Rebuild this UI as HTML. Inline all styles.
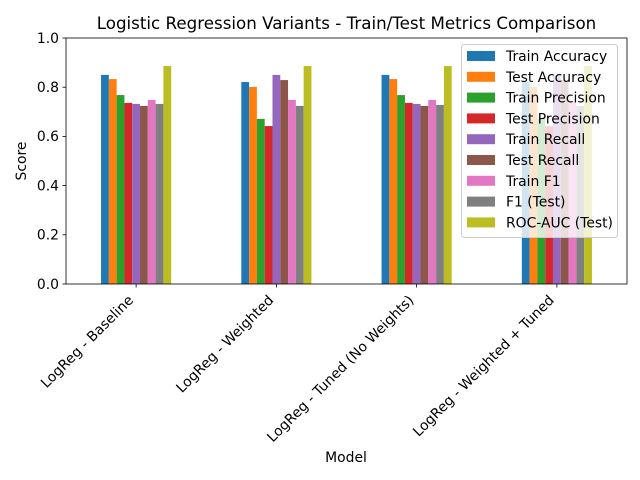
<!DOCTYPE html>
<html><head><meta charset="utf-8"><style>body{margin:0;background:#fff}svg{display:block;font-family:"DejaVu Sans","Liberation Sans",sans-serif}</style></head>
<body>
<svg id="chart" width="640" height="480" xmlns="http://www.w3.org/2000/svg"></svg>
<script>
const categories = ["LogReg - Baseline","LogReg - Weighted","LogReg - Tuned (No Weights)","LogReg - Weighted + Tuned"];
const seriesNames = ["Train Accuracy","Test Accuracy","Train Precision","Test Precision","Train Recall","Test Recall","Train F1","F1 (Test)","ROC-AUC (Test)"];
const trainAccuracy = [0.850,0.821,0.850,0.822];
const testAccuracy = [0.833,0.801,0.833,0.801];
const trainPrecision = [0.768,0.671,0.768,0.671];
const testPrecision = [0.736,0.642,0.736,0.642];
const trainRecall = [0.732,0.850,0.732,0.850];
const testRecall = [0.724,0.829,0.724,0.829];
const trainF1 = [0.748,0.748,0.748,0.746];
const testF1 = [0.732,0.724,0.728,0.724];
const rocAuc = [0.886,0.886,0.886,0.886];
const yTicks = [0.0,0.2,0.4,0.6,0.8,1.0];
const yTickLabels = ["0.0","0.2","0.4","0.6","0.8","1.0"];
const series = [trainAccuracy,testAccuracy,trainPrecision,testPrecision,trainRecall,testRecall,trainF1,testF1,rocAuc];
const colors = ["#1f77b4","#ff7f0e","#2ca02c","#d62728","#9467bd","#8c564b","#e377c2","#7f7f7f","#bcbd22"];

const NS="http://www.w3.org/2000/svg";
const svg=document.getElementById('chart');
const L=66,R=627,T=38,B=284;
const xScale=v=>L+(v+0.5)/4*(R-L);
const yScale=v=>B-v*(B-T);
function mk(tag,attrs,parent){const e=document.createElementNS(NS,tag);for(const k in attrs)e.setAttribute(k,attrs[k]);(parent||svg).appendChild(e);return e;}

const bw=0.5/series.length;
series.forEach((vals,s)=>{
  vals.forEach((v,i)=>{
    const x0=xScale(i-0.25+s*bw), x1=xScale(i-0.25+(s+1)*bw);
    const r=mk('rect',{x:x0,y:yScale(v),width:x1-x0,height:yScale(0)-yScale(v),fill:colors[s]});
    
    
  });
});
const frame=mk('rect',{x:L,y:T,width:R-L,height:B-T,fill:'none',stroke:'#000','stroke-width':0.8});



yTicks.forEach((v,i)=>{
  const y=yScale(v);
  mk('line',{x1:L-3.5,x2:L,y1:y,y2:y,stroke:'#000','stroke-width':0.8});
  const t=mk('text',{x:L-7,y:y+4.8,'text-anchor':'end','font-size':13.9});
  t.textContent=yTickLabels[i];
  
  
});
categories.forEach((c,i)=>{
  const x=xScale(i);
  mk('line',{x1:x,x2:x,y1:B,y2:B+3.5,stroke:'#000','stroke-width':0.8});
  const ax=x-2, ay=B+17;
  const t=mk('text',{x:ax,y:ay,'text-anchor':'end','font-size':13.9,transform:`rotate(-45 ${ax} ${ay})`});
  t.textContent=c;
  
  
});
let t=mk('text',{x:(L+R)/2,y:29,'text-anchor':'middle','font-size':16.7});
t.textContent="Logistic Regression Variants - Train/Test Metrics Comparison";


t=mk('text',{x:346,y:462,'text-anchor':'middle','font-size':13.9});
t.textContent="Model";


t=mk('text',{x:26,y:161,'text-anchor':'middle','font-size':13.9,transform:'rotate(-90 26 161)'});
t.textContent="Score";



const lg=mk('g',{});


mk('rect',{x:461.5,y:44.5,width:156,height:193,rx:3,fill:'#fff','fill-opacity':0.8,stroke:'#ccc'},lg);
seriesNames.forEach((n,s)=>{
  const y=51+s*20.8;
  mk('rect',{x:467,y:y,width:28,height:10,fill:colors[s]},lg);
  const tt=mk('text',{x:506,y:y+10,'font-size':13.9},lg);
  tt.textContent=n;
  
  
});
</script>
</body></html>
